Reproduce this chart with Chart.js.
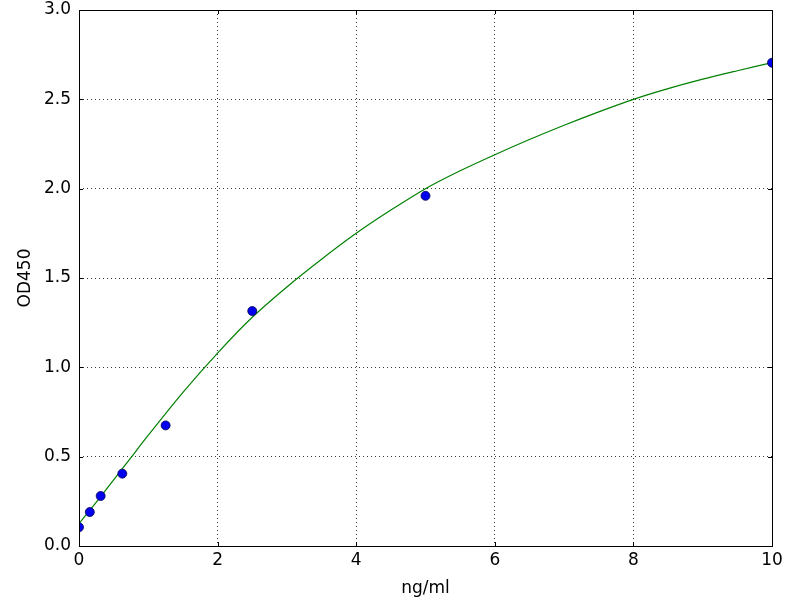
<!DOCTYPE html>
<html>
<head>
<meta charset="utf-8">
<script src="https://cdn.jsdelivr.net/npm/chart.js@4.4.0/dist/chart.umd.min.js"></script>
<style>
  html, body { margin: 0; padding: 0; background: #fff; }
  #wrap { width: 800px; height: 600px; }
</style>
</head>
<body>
<div id="wrap"><canvas id="elisa"></canvas></div>
<script>
// measured standards
var concentrations = [0, 0.156, 0.3125, 0.625, 1.25, 2.5, 5, 10];
var odValues = [0.105, 0.19, 0.28, 0.405, 0.675, 1.315, 1.96, 2.705];

// fitted curve
var curveX = [0, 0.25, 0.5, 0.75, 1, 1.5, 2, 2.5, 3, 3.5, 4, 4.5, 5, 5.5, 6, 6.5, 7, 7.5, 8, 8.5, 9, 9.5, 10];
var curveY = [0.125, 0.245, 0.37, 0.495, 0.62, 0.86, 1.08, 1.28, 1.45, 1.605, 1.75, 1.88, 2.0, 2.10, 2.19, 2.275, 2.355, 2.43, 2.5, 2.56, 2.613, 2.66, 2.705];

var xTicks = [0, 2, 4, 6, 8, 10];
var yTicks = [0, 0.5, 1.0, 1.5, 2.0, 2.5, 3.0];

function toXY(xs, ys) {
  return xs.map(function (x, i) { return { x: x, y: ys[i] }; });
}

var font = { family: "'DejaVu Sans', sans-serif", size: 17 };

// box round the plot and inward ticks on all four sides
var frame = {
  id: 'frame',
  afterDraw: function (chart) {
    var c = chart.ctx, a = chart.chartArea;
    var xs = chart.scales.x, ys = chart.scales.y;
    c.save();
    c.strokeStyle = '#000';
    c.lineWidth = 1;
    c.beginPath();
    xTicks.forEach(function (v) {
      var px = Math.round(xs.getPixelForValue(v)) + 0.5;
      c.moveTo(px, a.bottom); c.lineTo(px, a.bottom - 4);
      c.moveTo(px, a.top); c.lineTo(px, a.top + 4);
    });
    yTicks.forEach(function (v) {
      var py = Math.round(ys.getPixelForValue(v)) + 0.5;
      c.moveTo(a.left, py); c.lineTo(a.left + 4, py);
      c.moveTo(a.right, py); c.lineTo(a.right - 4, py);
    });
    c.stroke();
    c.strokeRect(a.left + 0.5, a.top + 0.5, a.right - a.left, a.bottom - a.top);
    c.restore();
  }
};

var ctx = document.getElementById('elisa').getContext('2d');
var chart = new Chart(ctx, {
  type: 'scatter',
  data: {
    datasets: [{
      label: 'fit',
      data: toXY(curveX, curveY),
      showLine: true,
      borderColor: '#008000',
      borderWidth: 1.2,
      pointRadius: 0,
      tension: 0.3,
      order: 2
    }, {
      label: 'standards',
      data: toXY(concentrations, odValues),
      backgroundColor: '#0000ee',
      borderColor: '#000050',
      borderWidth: 0.8,
      pointRadius: 4.5,
      pointHoverRadius: 4.5,
      order: 1
    }]
  },
  options: {
    responsive: true,
    maintainAspectRatio: false,
    animation: false,
    layout: { padding: { top: 10, right: 28, left: 0, bottom: 0 } },
    plugins: {
      legend: { display: false },
      tooltip: { enabled: false }
    },
    scales: {
      x: {
        type: 'linear',
        min: 0,
        max: 10,
        afterFit: function (s) { s.height = 54; s.paddingRight = 0; s.paddingLeft = 0; },
        afterBuildTicks: function (s) { s.ticks = xTicks.map(function (v) { return { value: v }; }); },
        ticks: { color: '#000', font: font, padding: 4, maxRotation: 0 },
        grid: { color: '#000', lineWidth: 0.8, drawTicks: false },
        border: { display: false, dash: [1, 3] },
        title: { display: true, text: 'ng/ml', color: '#000', font: font, padding: { top: 2, bottom: 1 } }
      },
      y: {
        type: 'linear',
        min: 0,
        max: 3,
        afterFit: function (s) { s.width = 79; s.paddingTop = 0; s.paddingBottom = 0; },
        afterBuildTicks: function (s) { s.ticks = yTicks.map(function (v) { return { value: v }; }); },
        ticks: {
          color: '#000',
          font: font,
          padding: 8,
          callback: function (v) { return Number(v).toFixed(1); }
        },
        grid: { color: '#000', lineWidth: 0.8, drawTicks: false },
        border: { display: false, dash: [1, 3] },
        title: { display: true, text: 'OD450', color: '#000', font: font, padding: { top: 15, bottom: 2 } }
      }
    }
  },
  plugins: [frame]
});
</script>
</body>
</html>
